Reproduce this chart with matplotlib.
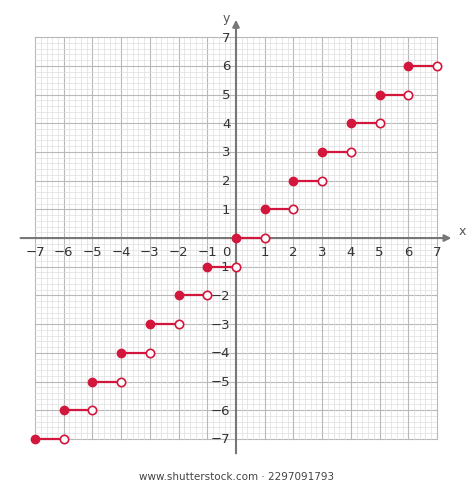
import matplotlib.pyplot as plt
import numpy as np

# floor function steps: closed dot at left, open dot at right
starts = [-7, -6, -5, -4, -3, -2, -1, 0, 1, 2, 3, 4, 5, 6]
levels = [-7, -6, -5, -4, -3, -2, -1, 0, 1, 2, 3, 4, 5, 6]
ticks = [-7, -6, -5, -4, -3, -2, -1, 1, 2, 3, 4, 5, 6, 7]

red = '#d3163c'
fig = plt.figure(figsize=(4.74, 4.89), dpi=100)
ax = fig.add_axes([0, 0, 1, 1])
ax.set_xlim(-8.22, 8.29)
ax.set_ylim(-8.71, 8.33)
ax.axis('off')

# grid
for v in np.arange(-7, 7.01, 0.2):
    major = abs(v - round(v)) < 1e-6
    c = '#b8b8b8' if major else '#dedede'
    lw = 0.8 if major else 0.5
    ax.plot([v, v], [-7, 7], color=c, lw=lw, zorder=1)
    ax.plot([-7, 7], [v, v], color=c, lw=lw, zorder=1)

# axes
ax.annotate('', xy=(7.6, 0), xytext=(-7.6, 0),
            arrowprops=dict(arrowstyle='-|>', color='#777777', lw=1.5), zorder=2)
ax.annotate('', xy=(0, 7.7), xytext=(0, -7.6),
            arrowprops=dict(arrowstyle='-|>', color='#777777', lw=1.5), zorder=2)
ax.text(7.75, 0.05, 'x', fontsize=9, color='#555555', va='bottom')
ax.text(-0.45, 7.45, 'y', fontsize=9, color='#555555', va='bottom')

for t in ticks:
    ax.text(t, -0.25, str(t).replace('-', '\u2212'), ha='center', va='top',
            fontsize=9.5, color='#333333', zorder=3)
    ax.text(-0.2, t, str(t).replace('-', '\u2212'), ha='right', va='center',
            fontsize=9.5, color='#333333', zorder=3)
ax.text(-0.2, -0.25, '0', ha='right', va='top', fontsize=9.5, color='#333333')

for s, lv in zip(starts, levels):
    ax.plot([s, s + 1], [lv, lv], color=red, lw=1.6, zorder=4)
    ax.plot(s, lv, 'o', color=red, ms=6, zorder=5)
    ax.plot(s + 1, lv, 'o', mfc='white', mec=red, mew=1.2, ms=6, zorder=5)

fig.text(0.5, 0.018, 'www.shutterstock.com \u00b7 2297091793', ha='center',
         fontsize=7.5, color='#444444')
fig.savefig('out.png', dpi=100)
